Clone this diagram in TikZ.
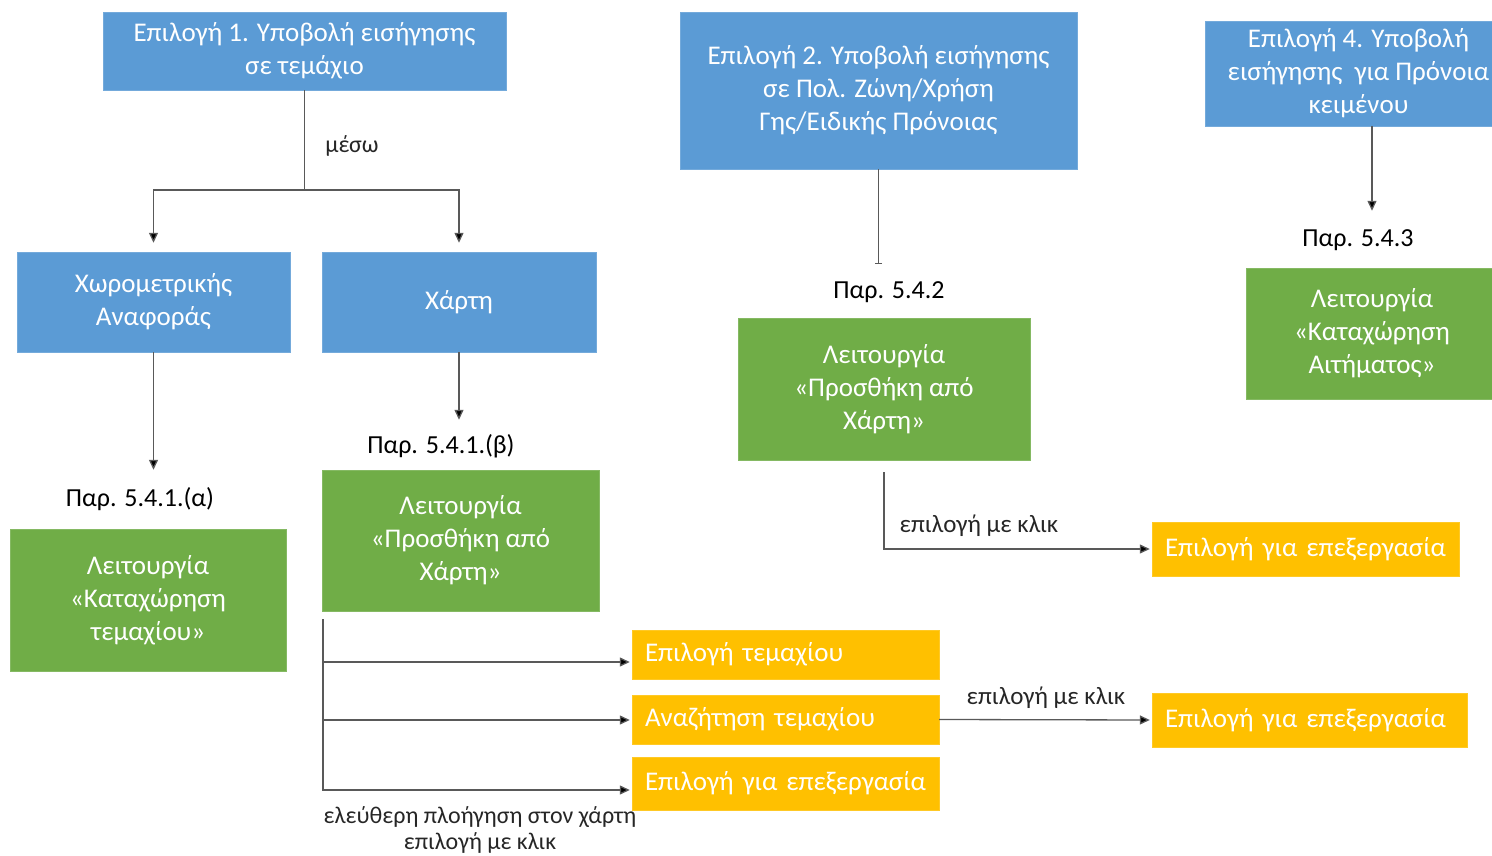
\documentclass[tikz,border=0pt]{standalone}
\usepackage{fontspec}
\setmainfont{Carlito}
\usetikzlibrary{arrows.meta}
\definecolor{cblue}{HTML}{5B9BD5}
\definecolor{cgreen}{HTML}{70AD47}
\definecolor{cyel}{HTML}{FFC000}
\definecolor{cline}{HTML}{595959}
\tikzset{
  box/.style={rectangle, inner sep=0pt, align=center, text=white, font=\fontsize{27}{33}\selectfont},
  bluebox/.style={box, fill=cblue, draw=cblue!85!white},
  greenbox/.style={box, fill=cgreen, draw=cgreen!85!white},
  yelbox/.style={box, fill=cyel, draw=cyel!85!white, align=left, inner xsep=13pt},
  lbl/.style={inner sep=0pt, text=black, font=\fontsize{26}{30}\selectfont},
  slbl/.style={inner sep=0pt, text=black!85, font=\fontsize{24}{26}\selectfont, align=center},
  klbl/.style={inner sep=0pt, text=black!85, font=\fontsize{25}{26}\selectfont},
  conn/.style={draw=cline, line width=1.3pt},
  arr/.style={conn, -{Triangle[length=10pt,width=9pt,fill=black]}},
}
\begin{document}
\begin{tikzpicture}[x=1pt,y=-1pt]
\useasboundingbox (0,0) rectangle (1492,856);
% blue boxes
\node[bluebox, minimum width=403pt, minimum height=78pt] (b1) at (304.5,51) {Επιλογή 1. Υποβολή εισήγησης\\σε τεμάχιο};
\node[bluebox, minimum width=397pt, minimum height=157pt] (b2) at (878.5,90.5) {Επιλογή 2. Υποβολή εισήγησης\\σε Πολ. Ζώνη/Χρήση\\Γης/Ειδικής Πρόνοιας};
\node[bluebox, minimum width=307pt, minimum height=105pt] (b4) at (1358.5,73.5) {Επιλογή 4. Υποβολή\\εισήγησης\ \ για Πρόνοια\\κειμένου};
\node[bluebox, minimum width=273pt, minimum height=100pt] (bx) at (153.5,302) {Χωρομετρικής\\Αναφοράς};
\node[bluebox, minimum width=274pt, minimum height=100pt] (bm) at (459,302) {Χάρτη};
% green boxes
\node[greenbox, minimum width=276pt, minimum height=142pt] (ga) at (148,600) {Λειτουργία\\«Καταχώρηση\\τεμαχίου»};
\node[greenbox, minimum width=277pt, minimum height=141pt] (gb) at (460.5,540.5) {Λειτουργία\\«Προσθήκη από\\Χάρτη»};
\node[greenbox, minimum width=292pt, minimum height=142pt] (g2) at (884,389) {Λειτουργία\\«Προσθήκη από\\Χάρτη»};
\node[greenbox, minimum width=252pt, minimum height=131pt] (g4) at (1372,333.5) {Λειτουργία\\«Καταχώρηση\\Αιτήματος»};
% yellow boxes
\node[yelbox, text width=281pt, minimum height=49pt] (y1) at (785.5,654.5) {\mbox{Επιλογή τεμαχίου}};
\node[yelbox, text width=281pt, minimum height=49pt] (y2) at (785.5,719.5) {\mbox{Αναζήτηση τεμαχίου}};
\node[yelbox, text width=281pt, minimum height=53pt] (y3) at (785.5,783.5) {\mbox{Επιλογή για επεξεργασία}};
\node[yelbox, text width=281pt, minimum height=54pt] (y4) at (1305.5,549) {\mbox{Επιλογή για επεξεργασία}};
\node[yelbox, text width=289pt, minimum height=54pt] (y5) at (1309.5,720) {\mbox{Επιλογή για επεξεργασία}};
% labels
\node[slbl] (lmeso) at (352,146) {μέσω};
\node[lbl] (pa) at (140,499) {Παρ. 5.4.1.(α)};
\node[lbl] (pb) at (441,446) {Παρ. 5.4.1.(β)};
\node[lbl] (p2) at (889,292) {Παρ. 5.4.2};
\node[lbl] (p3) at (1358,240) {Παρ. 5.4.3};
\node[klbl] (k1) at (979,526) {επιλογή με κλικ};
\node[klbl] (k2) at (1046,698) {επιλογή με κλικ};
\node[slbl] (k3) at (480,830) {ελεύθερη πλοήγηση στον χάρτη\\επιλογή με κλικ};
% connectors
\coordinate (j1) at (304.5,190);
\draw[conn] (b1.south) -- (j1);
\draw[arr, shorten >=9pt] (j1) -| (bx.north);
\draw[arr, shorten >=9pt] (j1) -| (bm.north);
\draw[arr, shorten >=59pt] (bx.south) -- (bx.south |- ga.north);
\draw[arr, shorten >=50pt] (bm.south) -- (bm.south |- gb.north);
\draw[conn, -{Bar[width=7pt,line width=0.8pt]}, shorten >=54pt] (b2.south) -- (b2.south |- g2.north);
\draw[arr, shorten >=57pt] (g4.north |- b4.south) -- (g4.north);
\draw[arr, shorten <=12pt, shorten >=2pt] (g2.south) |- (y4.west);
\coordinate (t) at (323,619);
\draw[arr, shorten >=2pt] (t) |- ([yshift=-7.5pt]y1.west);
\draw[arr, shorten >=2pt] (t) |- ([yshift=-0.5pt]y2.west);
\draw[arr, shorten >=2pt] (t) |- ([yshift=-6.5pt]y3.west);
\draw[arr, shorten >=2pt] (y2.east) -- (y5.west);
\end{tikzpicture}
\end{document}
